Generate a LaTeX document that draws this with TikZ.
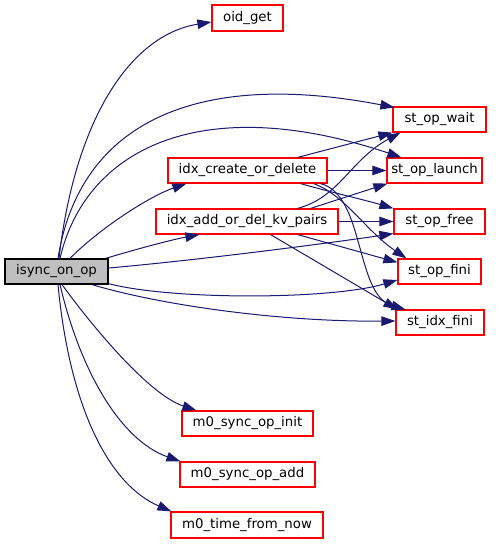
\documentclass[tikz,border=0pt]{standalone}
\usepackage{fontspec}
\setmainfont{DejaVu Sans}
\usetikzlibrary{arrows.meta}
\definecolor{edgeblue}{RGB}{25,25,112}
\definecolor{boxgray}{RGB}{191,191,191}
\begin{document}
\begin{tikzpicture}[x=1pt,y=-1pt,
  fn/.style={draw=red, fill=white, line width=1.2pt, inner sep=0pt,
    font=\fontsize{13.3}{16}\selectfont},
  rootfn/.style={fn, draw=black, fill=boxgray},
  call/.style={draw=edgeblue, line width=1pt,
    -{Triangle[length=14pt,width=9.5pt]}}]
\useasboundingbox (0,0) rectangle (499,544);
% nodes
\node[rootfn, minimum width=103pt, minimum height=25pt] (isync) at (56.5,271.5) {isync\_on\_op};
\node[fn, minimum width=71pt, minimum height=26pt] (oid) at (247.5,18) {oid\_get};
\node[fn, minimum width=93pt, minimum height=25pt] (wait) at (439.5,119.5) {st\_op\_wait};
\node[fn, minimum width=95pt, minimum height=25pt] (launch) at (434.5,170.5) {st\_op\_launch};
\node[fn, minimum width=159pt, minimum height=25pt] (create) at (247.5,170.5) {idx\_create\_or\_delete};
\node[fn, minimum width=182pt, minimum height=25pt] (add) at (247,221.5) {idx\_add\_or\_del\_kv\_pairs};
\node[fn, minimum width=91pt, minimum height=25pt] (free) at (439.5,221.5) {st\_op\_free};
\node[fn, minimum width=83pt, minimum height=25pt] (fini) at (439.5,271.5) {st\_op\_fini};
\node[fn, minimum width=88pt, minimum height=25pt] (idxfini) at (440,322.5) {st\_idx\_fini};
\node[fn, minimum width=131pt, minimum height=25pt] (init) at (247.5,423.5) {m0\_sync\_op\_init};
\node[fn, minimum width=135pt, minimum height=25pt] (addop) at (247.5,474.5) {m0\_sync\_op\_add};
\node[fn, minimum width=152pt, minimum height=26pt] (time) at (247,525) {m0\_time\_from\_now};
% edges from isync_on_op
\draw[call] ([xshift=2.5pt]isync.north) .. controls (75,120) and (130,35) .. ([yshift=-4pt]oid.west);
\draw[call] ([xshift=1.5pt]isync.north) .. controls (80,120) and (200,70) .. ([shift={(2pt,-1pt)}]wait.north west);
\draw[call] ([xshift=3.5pt]isync.north) .. controls (85,150) and (200,90) .. ([xshift=15pt]launch.north west);
\draw[call] ([xshift=13.5pt]isync.north) .. controls (100,228) and (150,196) .. ([xshift=19pt]create.south west);
\draw[call] ([xshift=-3pt]isync.north east) .. controls (130,251) and (170,240) .. ([xshift=44pt]add.south west);
\draw[call] ([yshift=3.5pt]isync.east) .. controls (200,260) and (330,243) .. ([yshift=1pt]free.south west);
\draw[call] ([yshift=1pt]isync.south east) .. controls (170,300) and (330,300) .. ([yshift=-8.5pt]fini.west);
\draw[call] ([xshift=35.5pt]isync.south) .. controls (160,305) and (280,322) .. ([yshift=1.5pt]idxfini.west);
\draw[call] ([xshift=5.5pt]isync.south) .. controls (95,330) and (150,395) .. ([xshift=15pt]init.north west);
\draw[call] ([xshift=3.5pt]isync.south) .. controls (80,370) and (120,440) .. ([xshift=1pt]addop.north west);
\draw[call] ([xshift=1.5pt]isync.south) .. controls (70,410) and (110,485) .. ([xshift=1pt]time.north west);
% edges from idx_create_or_delete
\draw[call] ([xshift=-30pt]create.north east) -- (wait.south west);
\draw[call] (create.east) -- (launch.west);
\draw[call] ([xshift=-27pt]create.south east) .. controls (330,192) and (365,200) .. (free.north west);
\draw[call] ([xshift=-14pt]create.south east) .. controls (345,195) and (365,230) .. ([xshift=9pt]fini.north west);
\draw[call] ([xshift=-7pt]create.south east) .. controls (365,195) and (355,295) .. ([xshift=10pt]idxfini.north west);
% edges from idx_add_or_del_kv_pairs
\draw[call] ([xshift=-41pt]add.north east) .. controls (340,197) and (350,160) .. ([xshift=8pt]wait.south west);
\draw[call] ([xshift=-28pt]add.north east) -- ([xshift=1pt]launch.south west);
\draw[call] (add.east) -- (free.west);
\draw[call] ([xshift=-41pt]add.south east) -- ([yshift=-4pt]fini.north west);
\draw[call] ([xshift=-68pt]add.south east) -- ([xshift=2pt]idxfini.north west);
\end{tikzpicture}
\end{document}
